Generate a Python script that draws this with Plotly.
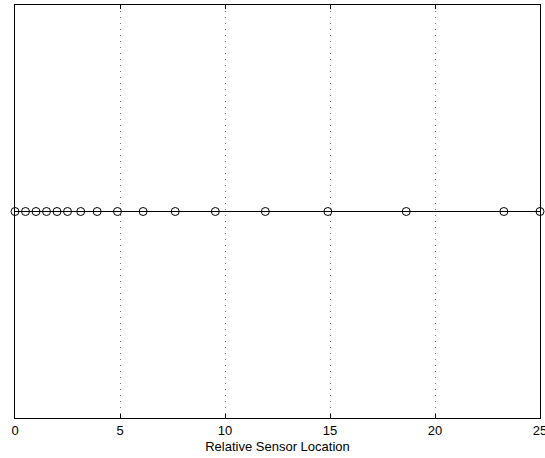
import plotly.graph_objects as go

sensor_x = [0, 0.5, 1, 1.5, 2, 2.5, 3.13, 3.91, 4.88, 6.1, 7.63, 9.54, 11.92, 14.9, 18.63, 23.28, 25]
sensor_y = [0] * len(sensor_x)
x_ticks = [0, 5, 10, 15, 20, 25]

fig = go.Figure()
fig.add_trace(go.Scatter(
    x=sensor_x, y=sensor_y, mode="lines+markers",
    line=dict(color="black", width=1),
    marker=dict(symbol="circle-open", size=8, color="black", line=dict(width=1)),
    cliponaxis=False, showlegend=False,
))

fig.update_layout(
    width=545, height=458,
    margin=dict(l=15, r=5, t=5, b=40),
    plot_bgcolor="white", paper_bgcolor="white",
    font=dict(family="Liberation Sans, Arial, sans-serif", size=13, color="black"),
    xaxis=dict(
        range=[0, 25], tickvals=x_ticks, ticktext=[str(t) for t in x_ticks],
        ticklabeloverflow="allow", automargin=False,
        showline=True, linecolor="black", linewidth=1, mirror="ticks",
        ticks="inside", ticklen=4, tickcolor="black",
        showgrid=True, gridcolor="#777777", griddash="1px,5px", gridwidth=1,
        zeroline=False,
        title=dict(text="Relative Sensor Location", standoff=5, font=dict(size=13)),
    ),
    yaxis=dict(
        range=[-1, 1], showticklabels=False, ticks="", automargin=False,
        showline=True, linecolor="black", linewidth=1, mirror=True,
        showgrid=False, zeroline=False,
    ),
)

fig.write_html("out.html")
